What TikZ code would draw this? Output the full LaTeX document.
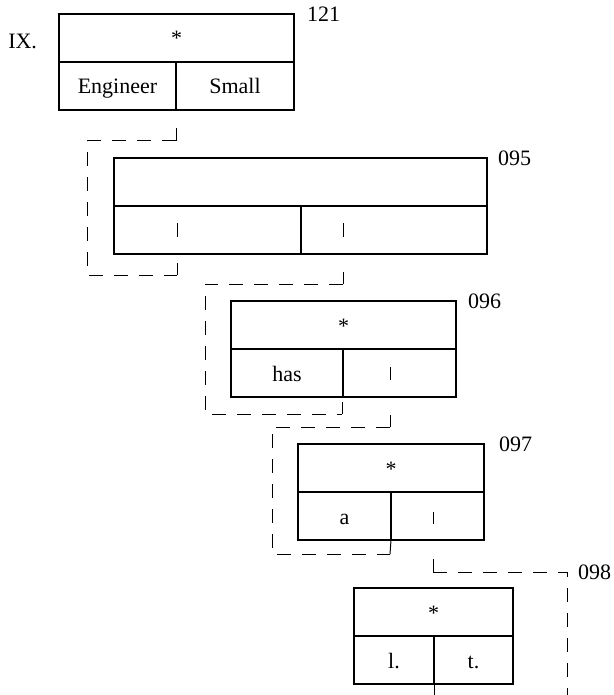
\documentclass[tikz,border=0pt]{standalone}
\usepackage{fontspec}
\setmainfont{Liberation Serif}
\usetikzlibrary{positioning}

\begin{document}
\begin{tikzpicture}[
    x=1pt, y=-1pt,
    cell/.style={draw, line width=1.5pt, inner sep=0pt, outer sep=0pt,
                 minimum height=48pt, text height=16pt, text depth=0pt,
                 font=\fontsize{22}{26}\selectfont},
    tag/.style={inner sep=0pt, outer sep=0pt, font=\fontsize{22}{26}\selectfont},
    link/.style={line width=1pt, dash pattern=on 14pt off 11pt},
    stub/.style={line width=1pt}
]
\useasboundingbox (0,0) rectangle (613,695);

% records
\node[cell, minimum width=235pt, anchor=north west] (r121) at (59,14) {*};
\node[cell, minimum width=117pt, below right=0pt and 0pt of r121.south west] (r121l) {Engineer};
\node[cell, minimum width=118pt, right=0pt of r121l] (r121r) {Small};
\node[tag, right=13pt of r121.north east] (n121) {121};
\node[tag, left=22pt of r121.west, yshift=-3pt] (ix) {IX.};

\node[cell, minimum width=373pt, anchor=north west] (r095) at (114,158) {};
\node[cell, minimum width=187pt, below right=0pt and 0pt of r095.south west] (r095l) {};
\node[cell, minimum width=186pt, right=0pt of r095l] (r095r) {};
\node[tag, right=11pt of r095.north east] (n095) {095};

\node[cell, minimum width=225pt, anchor=north west] (r096) at (231,301) {*};
\node[cell, minimum width=112pt, below right=0pt and 0pt of r096.south west] (r096l) {has};
\node[cell, minimum width=113pt, right=0pt of r096l] (r096r) {};
\node[tag, right=12pt of r096.north east] (n096) {096};

\node[cell, minimum width=186pt, anchor=north west] (r097) at (298,444) {*};
\node[cell, minimum width=93pt, below right=0pt and 0pt of r097.south west] (r097l) {a};
\node[cell, minimum width=93pt, right=0pt of r097l] (r097r) {};
\node[tag, right=15pt of r097.north east] (n097) {097};

\node[cell, minimum width=159pt, anchor=north west] (r098) at (354,588) {*};
\node[cell, minimum width=80pt, below right=0pt and 0pt of r098.south west] (r098l) {l.};
\node[cell, minimum width=79pt, right=0pt of r098l] (r098r) {t.};

% pointer marks in the cells
\draw[stub] (177,223) -- (177,237);
\draw[stub] (343,223) -- (343,237);
\draw[stub] (390,367) -- (390,380);
\draw[stub] (433,512) -- (433,524);

% 121 -> 095
\coordinate (a0) at (176,128);
\coordinate (a1) at (176,141);
\coordinate (a2) at (177,275);
\coordinate (a3) at (177,263);
\draw[stub] (a0) -- (a1);
\draw[link] (a1) -| (87,275) -- (a2);
\draw[stub] (a2) -- (a3);

% 095 -> 096
\coordinate (b0) at (343,272);
\coordinate (b1) at (343,284);
\coordinate (b2) at (342,414);
\coordinate (b3) at (342,402);
\draw[stub] (b0) -- (b1);
\draw[link] (b1) -| (205,414) -- (b2);
\draw[stub] (b2) -- (b3);

% 096 -> 097
\coordinate (c0) at (390,415);
\coordinate (c1) at (390,427);
\coordinate (c2) at (390,554);
\draw[stub] (c0) -- (c1);
\draw[link] (c1) -| (272,554) -- (c2);
\draw[stub] (c2) -- (r097l.south east);

% 097 -> 098
\coordinate (d0) at (433,559);
\coordinate (d1) at (433,572);
\coordinate (d2) at (567,572);
\coordinate (d3) at (567,695);
\draw[stub] (d0) -- (d1);
\draw[link] (d1) -- (d2) -- (d3);
\node[tag, right=11pt of d2] (n098) {098};

\draw[stub] (r098l.south east) -- ++(0,11);
\end{tikzpicture}
\end{document}
